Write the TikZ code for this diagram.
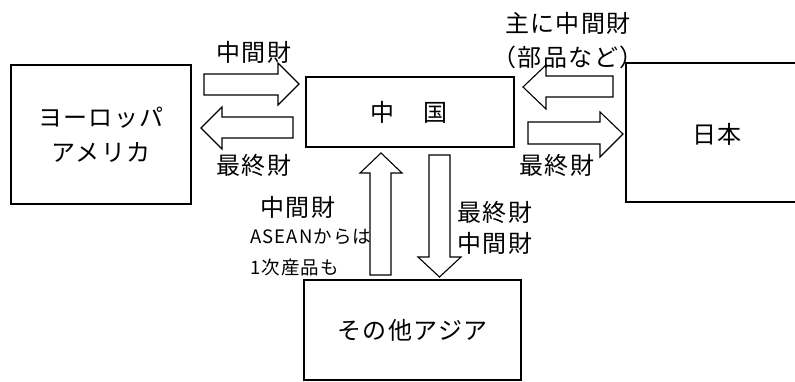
\documentclass[tikz,border=0pt]{standalone}
\usepackage{fontspec}
\setmainfont{Noto Sans CJK JP}[LetterSpace=6]
\begin{document}
\begin{tikzpicture}[x=1pt,y=-1pt,
  box/.style={draw, line width=1.2pt, inner sep=0pt, outer sep=0pt},
  big/.style={font=\fontsize{24}{35}\selectfont},
  lbl/.style={font=\fontsize{24}{31}\selectfont, inner sep=0pt},
  small/.style={font=\fontsize{18.5}{30}\selectfont, inner sep=0pt},
  blk/.style={draw, line width=1.1pt, line join=miter}]
\useasboundingbox (0,0) rectangle (795,381);
\clip (0,0) rectangle (795,381);
% boxes
\node[box, big, minimum width=180pt, minimum height=139pt, align=center] (eu) at (101,134.5) {ヨーロッパ\\アメリカ};
\node[box, minimum width=208pt, minimum height=70pt] (cn) at (410,112) {};
\node[big, inner sep=0pt] (cnt) at (409,112) {中\hspace{29pt}国};
\node[box, minimum width=194pt, minimum height=139pt] (jp) at (723,132.5) {};
\node[big, inner sep=0pt] (jpt) at (717,134) {日本};
\node[box, big, minimum width=217pt, minimum height=100pt] (as) at (412.5,330) {その他アジア};
% block arrows
\draw[blk] (204,74) -- (278,74) -- (278,63) -- (299,84) -- (278,105) -- (278,95) -- (204,95) -- cycle;
\draw[blk] (293,117) -- (222,117) -- (222,107) -- (201,128) -- (222,149) -- (222,138) -- (293,138) -- cycle;
\draw[blk] (613,76) -- (546,76) -- (546,65) -- (523,87) -- (546,109) -- (546,97) -- (613,97) -- cycle;
\draw[blk] (528,122) -- (600,122) -- (600,112) -- (623,134) -- (600,157) -- (600,144) -- (528,144) -- cycle;
\draw[blk] (370,275) -- (370,173) -- (360,173) -- (381,153) -- (402,173) -- (391,173) -- (391,275) -- cycle;
\draw[blk] (429,155) -- (450,155) -- (450,257) -- (461,257) -- (439.5,277) -- (418,257) -- (429,257) -- cycle;
% labels
\node[lbl] (l1) at (254,52) {中間財};
\node[lbl] (l2) at (254,165) {最終財};
\node[lbl] (l3) at (568,23) {主に中間財};
\node[lbl] (l4) at (568,57) {（部品など）};
\node[lbl] (l5) at (557,165) {最終財};
\node[lbl] (l6) at (298,207) {中間財};
\node[small, anchor=west] (l7) at (250,237) {ASEANからは};
\node[small, anchor=west] (l7b) at (250,267) {1次産品も};
\node[lbl] (l8) at (495,212) {最終財};
\node[lbl] (l9) at (495,243) {中間財};
\end{tikzpicture}
\end{document}
